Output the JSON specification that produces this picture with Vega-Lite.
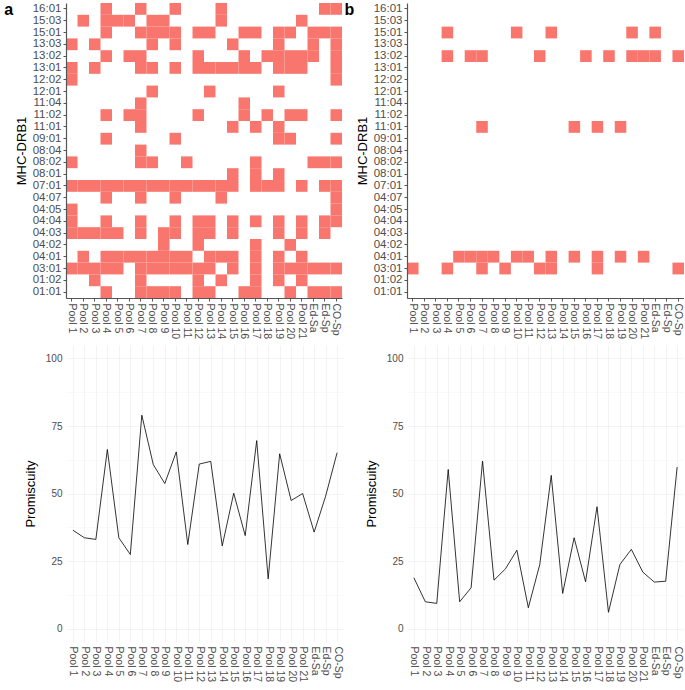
{
"$schema": "https://vega.github.io/schema/vega-lite/v6.json",
"padding": {"left": 4, "top": 2, "right": 0, "bottom": 0},
"columns": 2,
"spacing": {"row": 6, "column": 0},
"config": {
  "view": {"stroke": null},
  "font": "Liberation Sans",
  "axis": {"labelFont": "Liberation Sans", "titleFont": "Liberation Sans", "titleFontWeight": "normal", "titleColor": "#000000", "titleFontSize": 13, "labelColor": "#4D4D4D"},
  "title": {"font": "Liberation Sans"}
},
"datasets": {
"cells": [
{"panel":"a","allele":"16:01","sample":"Pool 4"},{"panel":"a","allele":"16:01","sample":"Pool 7"},{"panel":"a","allele":"16:01","sample":"Pool 10"},{"panel":"a","allele":"16:01","sample":"Pool 14"},{"panel":"a","allele":"16:01","sample":"Ed-Sp"},{"panel":"a","allele":"16:01","sample":"CO-Sp"},
{"panel":"a","allele":"15:03","sample":"Pool 2"},{"panel":"a","allele":"15:03","sample":"Pool 4"},{"panel":"a","allele":"15:03","sample":"Pool 5"},{"panel":"a","allele":"15:03","sample":"Pool 6"},{"panel":"a","allele":"15:03","sample":"Pool 8"},{"panel":"a","allele":"15:03","sample":"Pool 9"},{"panel":"a","allele":"15:03","sample":"Pool 14"},{"panel":"a","allele":"15:03","sample":"Pool 21"},
{"panel":"a","allele":"15:01","sample":"Pool 4"},{"panel":"a","allele":"15:01","sample":"Pool 7"},{"panel":"a","allele":"15:01","sample":"Pool 8"},{"panel":"a","allele":"15:01","sample":"Pool 9"},{"panel":"a","allele":"15:01","sample":"Pool 10"},{"panel":"a","allele":"15:01","sample":"Pool 12"},{"panel":"a","allele":"15:01","sample":"Pool 13"},{"panel":"a","allele":"15:01","sample":"Pool 16"},{"panel":"a","allele":"15:01","sample":"Pool 17"},{"panel":"a","allele":"15:01","sample":"Pool 19"},{"panel":"a","allele":"15:01","sample":"Pool 20"},{"panel":"a","allele":"15:01","sample":"Ed-Sa"},{"panel":"a","allele":"15:01","sample":"Ed-Sp"},{"panel":"a","allele":"15:01","sample":"CO-Sp"},
{"panel":"a","allele":"13:03","sample":"Pool 1"},{"panel":"a","allele":"13:03","sample":"Pool 3"},{"panel":"a","allele":"13:03","sample":"Pool 8"},{"panel":"a","allele":"13:03","sample":"Pool 10"},{"panel":"a","allele":"13:03","sample":"Pool 15"},{"panel":"a","allele":"13:03","sample":"Pool 19"},{"panel":"a","allele":"13:03","sample":"Ed-Sa"},{"panel":"a","allele":"13:03","sample":"CO-Sp"},
{"panel":"a","allele":"13:02","sample":"Pool 4"},{"panel":"a","allele":"13:02","sample":"Pool 6"},{"panel":"a","allele":"13:02","sample":"Pool 7"},{"panel":"a","allele":"13:02","sample":"Pool 12"},{"panel":"a","allele":"13:02","sample":"Pool 16"},{"panel":"a","allele":"13:02","sample":"Pool 18"},{"panel":"a","allele":"13:02","sample":"Pool 19"},{"panel":"a","allele":"13:02","sample":"Pool 20"},{"panel":"a","allele":"13:02","sample":"Pool 21"},{"panel":"a","allele":"13:02","sample":"Ed-Sa"},{"panel":"a","allele":"13:02","sample":"CO-Sp"},
{"panel":"a","allele":"13:01","sample":"Pool 1"},{"panel":"a","allele":"13:01","sample":"Pool 3"},{"panel":"a","allele":"13:01","sample":"Pool 7"},{"panel":"a","allele":"13:01","sample":"Pool 8"},{"panel":"a","allele":"13:01","sample":"Pool 10"},{"panel":"a","allele":"13:01","sample":"Pool 12"},{"panel":"a","allele":"13:01","sample":"Pool 13"},{"panel":"a","allele":"13:01","sample":"Pool 14"},{"panel":"a","allele":"13:01","sample":"Pool 15"},{"panel":"a","allele":"13:01","sample":"Pool 16"},{"panel":"a","allele":"13:01","sample":"Pool 17"},{"panel":"a","allele":"13:01","sample":"Pool 19"},{"panel":"a","allele":"13:01","sample":"Pool 20"},{"panel":"a","allele":"13:01","sample":"Pool 21"},{"panel":"a","allele":"13:01","sample":"CO-Sp"},
{"panel":"a","allele":"12:02","sample":"Pool 1"},{"panel":"a","allele":"12:02","sample":"CO-Sp"},
{"panel":"a","allele":"12:01","sample":"Pool 8"},{"panel":"a","allele":"12:01","sample":"Pool 13"},{"panel":"a","allele":"12:01","sample":"Pool 19"},
{"panel":"a","allele":"11:04","sample":"Pool 7"},{"panel":"a","allele":"11:04","sample":"Pool 16"},
{"panel":"a","allele":"11:02","sample":"Pool 4"},{"panel":"a","allele":"11:02","sample":"Pool 6"},{"panel":"a","allele":"11:02","sample":"Pool 7"},{"panel":"a","allele":"11:02","sample":"Pool 12"},{"panel":"a","allele":"11:02","sample":"Pool 16"},{"panel":"a","allele":"11:02","sample":"Pool 18"},{"panel":"a","allele":"11:02","sample":"Pool 20"},{"panel":"a","allele":"11:02","sample":"Pool 21"},{"panel":"a","allele":"11:02","sample":"CO-Sp"},
{"panel":"a","allele":"11:01","sample":"Pool 7"},{"panel":"a","allele":"11:01","sample":"Pool 15"},{"panel":"a","allele":"11:01","sample":"Pool 17"},{"panel":"a","allele":"11:01","sample":"Pool 19"},
{"panel":"a","allele":"09:01","sample":"Pool 4"},{"panel":"a","allele":"09:01","sample":"Pool 10"},{"panel":"a","allele":"09:01","sample":"Pool 19"},{"panel":"a","allele":"09:01","sample":"Pool 20"},{"panel":"a","allele":"09:01","sample":"CO-Sp"},
{"panel":"a","allele":"08:04","sample":"Pool 7"},
{"panel":"a","allele":"08:02","sample":"Pool 1"},{"panel":"a","allele":"08:02","sample":"Pool 7"},{"panel":"a","allele":"08:02","sample":"Pool 8"},{"panel":"a","allele":"08:02","sample":"Pool 11"},{"panel":"a","allele":"08:02","sample":"Pool 17"},{"panel":"a","allele":"08:02","sample":"Ed-Sa"},{"panel":"a","allele":"08:02","sample":"Ed-Sp"},{"panel":"a","allele":"08:02","sample":"CO-Sp"},
{"panel":"a","allele":"08:01","sample":"Pool 15"},{"panel":"a","allele":"08:01","sample":"Pool 17"},{"panel":"a","allele":"08:01","sample":"Pool 19"},
{"panel":"a","allele":"07:01","sample":"Pool 1"},{"panel":"a","allele":"07:01","sample":"Pool 2"},{"panel":"a","allele":"07:01","sample":"Pool 3"},{"panel":"a","allele":"07:01","sample":"Pool 4"},{"panel":"a","allele":"07:01","sample":"Pool 5"},{"panel":"a","allele":"07:01","sample":"Pool 6"},{"panel":"a","allele":"07:01","sample":"Pool 7"},{"panel":"a","allele":"07:01","sample":"Pool 8"},{"panel":"a","allele":"07:01","sample":"Pool 9"},{"panel":"a","allele":"07:01","sample":"Pool 10"},{"panel":"a","allele":"07:01","sample":"Pool 11"},{"panel":"a","allele":"07:01","sample":"Pool 12"},{"panel":"a","allele":"07:01","sample":"Pool 13"},{"panel":"a","allele":"07:01","sample":"Pool 14"},{"panel":"a","allele":"07:01","sample":"Pool 15"},{"panel":"a","allele":"07:01","sample":"Pool 17"},{"panel":"a","allele":"07:01","sample":"Pool 18"},{"panel":"a","allele":"07:01","sample":"Pool 19"},{"panel":"a","allele":"07:01","sample":"Pool 21"},{"panel":"a","allele":"07:01","sample":"Ed-Sp"},{"panel":"a","allele":"07:01","sample":"CO-Sp"},
{"panel":"a","allele":"04:07","sample":"Pool 4"},{"panel":"a","allele":"04:07","sample":"Pool 7"},{"panel":"a","allele":"04:07","sample":"Pool 10"},{"panel":"a","allele":"04:07","sample":"Pool 14"},{"panel":"a","allele":"04:07","sample":"CO-Sp"},
{"panel":"a","allele":"04:05","sample":"Pool 1"},{"panel":"a","allele":"04:05","sample":"CO-Sp"},
{"panel":"a","allele":"04:04","sample":"Pool 1"},{"panel":"a","allele":"04:04","sample":"Pool 4"},{"panel":"a","allele":"04:04","sample":"Pool 7"},{"panel":"a","allele":"04:04","sample":"Pool 10"},{"panel":"a","allele":"04:04","sample":"Pool 12"},{"panel":"a","allele":"04:04","sample":"Pool 13"},{"panel":"a","allele":"04:04","sample":"Pool 15"},{"panel":"a","allele":"04:04","sample":"Pool 17"},{"panel":"a","allele":"04:04","sample":"Pool 19"},{"panel":"a","allele":"04:04","sample":"Pool 21"},{"panel":"a","allele":"04:04","sample":"Ed-Sp"},{"panel":"a","allele":"04:04","sample":"CO-Sp"},
{"panel":"a","allele":"04:03","sample":"Pool 1"},{"panel":"a","allele":"04:03","sample":"Pool 2"},{"panel":"a","allele":"04:03","sample":"Pool 3"},{"panel":"a","allele":"04:03","sample":"Pool 4"},{"panel":"a","allele":"04:03","sample":"Pool 5"},{"panel":"a","allele":"04:03","sample":"Pool 7"},{"panel":"a","allele":"04:03","sample":"Pool 9"},{"panel":"a","allele":"04:03","sample":"Pool 10"},{"panel":"a","allele":"04:03","sample":"Pool 12"},{"panel":"a","allele":"04:03","sample":"Pool 13"},{"panel":"a","allele":"04:03","sample":"Pool 15"},{"panel":"a","allele":"04:03","sample":"Pool 19"},{"panel":"a","allele":"04:03","sample":"Pool 21"},{"panel":"a","allele":"04:03","sample":"Ed-Sp"},
{"panel":"a","allele":"04:02","sample":"Pool 9"},{"panel":"a","allele":"04:02","sample":"Pool 12"},{"panel":"a","allele":"04:02","sample":"Pool 17"},{"panel":"a","allele":"04:02","sample":"Pool 20"},
{"panel":"a","allele":"04:01","sample":"Pool 2"},{"panel":"a","allele":"04:01","sample":"Pool 4"},{"panel":"a","allele":"04:01","sample":"Pool 5"},{"panel":"a","allele":"04:01","sample":"Pool 6"},{"panel":"a","allele":"04:01","sample":"Pool 7"},{"panel":"a","allele":"04:01","sample":"Pool 8"},{"panel":"a","allele":"04:01","sample":"Pool 9"},{"panel":"a","allele":"04:01","sample":"Pool 10"},{"panel":"a","allele":"04:01","sample":"Pool 11"},{"panel":"a","allele":"04:01","sample":"Pool 13"},{"panel":"a","allele":"04:01","sample":"Pool 14"},{"panel":"a","allele":"04:01","sample":"Pool 15"},{"panel":"a","allele":"04:01","sample":"Pool 17"},{"panel":"a","allele":"04:01","sample":"Pool 19"},{"panel":"a","allele":"04:01","sample":"Pool 21"},
{"panel":"a","allele":"03:01","sample":"Pool 1"},{"panel":"a","allele":"03:01","sample":"Pool 2"},{"panel":"a","allele":"03:01","sample":"Pool 3"},{"panel":"a","allele":"03:01","sample":"Pool 4"},{"panel":"a","allele":"03:01","sample":"Pool 5"},{"panel":"a","allele":"03:01","sample":"Pool 7"},{"panel":"a","allele":"03:01","sample":"Pool 8"},{"panel":"a","allele":"03:01","sample":"Pool 9"},{"panel":"a","allele":"03:01","sample":"Pool 10"},{"panel":"a","allele":"03:01","sample":"Pool 11"},{"panel":"a","allele":"03:01","sample":"Pool 12"},{"panel":"a","allele":"03:01","sample":"Pool 13"},{"panel":"a","allele":"03:01","sample":"Pool 15"},{"panel":"a","allele":"03:01","sample":"Pool 17"},{"panel":"a","allele":"03:01","sample":"Pool 19"},{"panel":"a","allele":"03:01","sample":"Pool 20"},{"panel":"a","allele":"03:01","sample":"Pool 21"},{"panel":"a","allele":"03:01","sample":"Ed-Sa"},{"panel":"a","allele":"03:01","sample":"Ed-Sp"},{"panel":"a","allele":"03:01","sample":"CO-Sp"},
{"panel":"a","allele":"01:02","sample":"Pool 3"},{"panel":"a","allele":"01:02","sample":"Pool 7"},{"panel":"a","allele":"01:02","sample":"Pool 12"},{"panel":"a","allele":"01:02","sample":"Pool 14"},{"panel":"a","allele":"01:02","sample":"Pool 17"},{"panel":"a","allele":"01:02","sample":"Pool 19"},{"panel":"a","allele":"01:02","sample":"Pool 21"},
{"panel":"a","allele":"01:01","sample":"Pool 4"},{"panel":"a","allele":"01:01","sample":"Pool 7"},{"panel":"a","allele":"01:01","sample":"Pool 8"},{"panel":"a","allele":"01:01","sample":"Pool 9"},{"panel":"a","allele":"01:01","sample":"Pool 10"},{"panel":"a","allele":"01:01","sample":"Pool 12"},{"panel":"a","allele":"01:01","sample":"Pool 13"},{"panel":"a","allele":"01:01","sample":"Pool 16"},{"panel":"a","allele":"01:01","sample":"Pool 17"},{"panel":"a","allele":"01:01","sample":"Pool 20"},{"panel":"a","allele":"01:01","sample":"Ed-Sa"},{"panel":"a","allele":"01:01","sample":"Ed-Sp"},{"panel":"a","allele":"01:01","sample":"CO-Sp"},
{"panel":"b","allele":"15:01","sample":"Pool 4"},{"panel":"b","allele":"15:01","sample":"Pool 10"},{"panel":"b","allele":"15:01","sample":"Pool 13"},{"panel":"b","allele":"15:01","sample":"Pool 20"},{"panel":"b","allele":"15:01","sample":"Ed-Sa"},
{"panel":"b","allele":"13:02","sample":"Pool 4"},{"panel":"b","allele":"13:02","sample":"Pool 6"},{"panel":"b","allele":"13:02","sample":"Pool 7"},{"panel":"b","allele":"13:02","sample":"Pool 12"},{"panel":"b","allele":"13:02","sample":"Pool 16"},{"panel":"b","allele":"13:02","sample":"Pool 18"},{"panel":"b","allele":"13:02","sample":"Pool 20"},{"panel":"b","allele":"13:02","sample":"Pool 21"},{"panel":"b","allele":"13:02","sample":"Ed-Sa"},{"panel":"b","allele":"13:02","sample":"CO-Sp"},
{"panel":"b","allele":"11:01","sample":"Pool 7"},{"panel":"b","allele":"11:01","sample":"Pool 15"},{"panel":"b","allele":"11:01","sample":"Pool 17"},{"panel":"b","allele":"11:01","sample":"Pool 19"},
{"panel":"b","allele":"04:01","sample":"Pool 5"},{"panel":"b","allele":"04:01","sample":"Pool 6"},{"panel":"b","allele":"04:01","sample":"Pool 7"},{"panel":"b","allele":"04:01","sample":"Pool 8"},{"panel":"b","allele":"04:01","sample":"Pool 10"},{"panel":"b","allele":"04:01","sample":"Pool 11"},{"panel":"b","allele":"04:01","sample":"Pool 13"},{"panel":"b","allele":"04:01","sample":"Pool 15"},{"panel":"b","allele":"04:01","sample":"Pool 17"},{"panel":"b","allele":"04:01","sample":"Pool 19"},{"panel":"b","allele":"04:01","sample":"Pool 21"},
{"panel":"b","allele":"03:01","sample":"Pool 1"},{"panel":"b","allele":"03:01","sample":"Pool 4"},{"panel":"b","allele":"03:01","sample":"Pool 7"},{"panel":"b","allele":"03:01","sample":"Pool 9"},{"panel":"b","allele":"03:01","sample":"Pool 12"},{"panel":"b","allele":"03:01","sample":"Pool 13"},{"panel":"b","allele":"03:01","sample":"Pool 17"},{"panel":"b","allele":"03:01","sample":"CO-Sp"}
],
"promisc": [
{"panel":"a","sample":"Pool 1","promiscuity":36.4},{"panel":"a","sample":"Pool 2","promiscuity":33.6},{"panel":"a","sample":"Pool 3","promiscuity":33.0},{"panel":"a","sample":"Pool 4","promiscuity":66.3},{"panel":"a","sample":"Pool 5","promiscuity":33.6},{"panel":"a","sample":"Pool 6","promiscuity":27.4},{"panel":"a","sample":"Pool 7","promiscuity":79.0},{"panel":"a","sample":"Pool 8","promiscuity":60.7},{"panel":"a","sample":"Pool 9","promiscuity":53.7},{"panel":"a","sample":"Pool 10","promiscuity":65.4},{"panel":"a","sample":"Pool 11","promiscuity":31.1},{"panel":"a","sample":"Pool 12","promiscuity":60.9},{"panel":"a","sample":"Pool 13","promiscuity":61.9},{"panel":"a","sample":"Pool 14","promiscuity":30.6},{"panel":"a","sample":"Pool 15","promiscuity":50.1},{"panel":"a","sample":"Pool 16","promiscuity":34.4},{"panel":"a","sample":"Pool 17","promiscuity":69.6},{"panel":"a","sample":"Pool 18","promiscuity":18.4},{"panel":"a","sample":"Pool 19","promiscuity":64.7},{"panel":"a","sample":"Pool 20","promiscuity":47.4},{"panel":"a","sample":"Pool 21","promiscuity":50.0},{"panel":"a","sample":"Ed-Sa","promiscuity":35.7},{"panel":"a","sample":"Ed-Sp","promiscuity":49.0},{"panel":"a","sample":"CO-Sp","promiscuity":65.1},
{"panel":"b","sample":"Pool 1","promiscuity":18.8},{"panel":"b","sample":"Pool 2","promiscuity":9.9},{"panel":"b","sample":"Pool 3","promiscuity":9.3},{"panel":"b","sample":"Pool 4","promiscuity":58.9},{"panel":"b","sample":"Pool 5","promiscuity":9.9},{"panel":"b","sample":"Pool 6","promiscuity":15.1},{"panel":"b","sample":"Pool 7","promiscuity":62.0},{"panel":"b","sample":"Pool 8","promiscuity":17.9},{"panel":"b","sample":"Pool 9","promiscuity":22.1},{"panel":"b","sample":"Pool 10","promiscuity":29.0},{"panel":"b","sample":"Pool 11","promiscuity":7.7},{"panel":"b","sample":"Pool 12","promiscuity":23.7},{"panel":"b","sample":"Pool 13","promiscuity":56.7},{"panel":"b","sample":"Pool 14","promiscuity":13.0},{"panel":"b","sample":"Pool 15","promiscuity":33.6},{"panel":"b","sample":"Pool 16","promiscuity":17.3},{"panel":"b","sample":"Pool 17","promiscuity":45.1},{"panel":"b","sample":"Pool 18","promiscuity":6.0},{"panel":"b","sample":"Pool 19","promiscuity":23.7},{"panel":"b","sample":"Pool 20","promiscuity":29.3},{"panel":"b","sample":"Pool 21","promiscuity":20.9},{"panel":"b","sample":"Ed-Sa","promiscuity":17.2},{"panel":"b","sample":"Ed-Sp","promiscuity":17.5},{"panel":"b","sample":"CO-Sp","promiscuity":59.8}
]
},
"concat": [
{
  "width": 276, "height": 295,
  "title": {"text": "a", "orient": "left", "anchor": "end", "angle": 0, "fontSize": 16, "fontWeight": "bold", "color": "#000000", "baseline": "top", "offset": 2, "align": "left"},
  "data": {"name": "cells"},
  "transform": [{"filter": "datum.panel === 'a'"}],
  "mark": {"type": "rect", "color": "#F8766D"},
  "encoding": {
    "x": {"field": "sample", "type": "nominal", "title": null,
      "scale": {"domain": ["Pool 1","Pool 2","Pool 3","Pool 4","Pool 5","Pool 6","Pool 7","Pool 8","Pool 9","Pool 10","Pool 11","Pool 12","Pool 13","Pool 14","Pool 15","Pool 16","Pool 17","Pool 18","Pool 19","Pool 20","Pool 21","Ed-Sa","Ed-Sp","CO-Sp"], "paddingInner": 0, "paddingOuter": 0},
      "axis": {"labelAngle": 90, "labelAlign": "left", "labelBaseline": "middle", "labelFontSize": 10.5, "labelPadding": 2, "tickSize": 3, "tickColor": "#555555", "domainColor": "#555555", "domainWidth": 1.2}},
    "y": {"field": "allele", "type": "nominal", "title": "MHC-DRB1",
      "scale": {"domain": ["16:01","15:03","15:01","13:03","13:02","13:01","12:02","12:01","11:04","11:02","11:01","09:01","08:04","08:02","08:01","07:01","04:07","04:05","04:04","04:03","04:02","04:01","03:01","01:02","01:01"], "paddingInner": 0, "paddingOuter": 0},
      "axis": {"labelFontSize": 11.5, "labelPadding": 2, "tickSize": 3, "tickColor": "#555555", "domainColor": "#555555", "domainWidth": 1.2, "titlePadding": 4}}
  }
},
{
  "width": 277, "height": 295,
  "title": {"text": "b", "orient": "left", "anchor": "end", "angle": 0, "fontSize": 16, "fontWeight": "bold", "color": "#000000", "baseline": "top", "offset": 2, "align": "left"},
  "data": {"name": "cells"},
  "transform": [{"filter": "datum.panel === 'b'"}],
  "mark": {"type": "rect", "color": "#F8766D"},
  "encoding": {
    "x": {"field": "sample", "type": "nominal", "title": null,
      "scale": {"domain": ["Pool 1","Pool 2","Pool 3","Pool 4","Pool 5","Pool 6","Pool 7","Pool 8","Pool 9","Pool 10","Pool 11","Pool 12","Pool 13","Pool 14","Pool 15","Pool 16","Pool 17","Pool 18","Pool 19","Pool 20","Pool 21","Ed-Sa","Ed-Sp","CO-Sp"], "paddingInner": 0, "paddingOuter": 0},
      "axis": {"labelAngle": 90, "labelAlign": "left", "labelBaseline": "middle", "labelFontSize": 10.5, "labelPadding": 2, "tickSize": 3, "tickColor": "#555555", "domainColor": "#555555", "domainWidth": 1.2}},
    "y": {"field": "allele", "type": "nominal", "title": "MHC-DRB1",
      "scale": {"domain": ["16:01","15:03","15:01","13:03","13:02","13:01","12:02","12:01","11:04","11:02","11:01","09:01","08:04","08:02","08:01","07:01","04:07","04:05","04:04","04:03","04:02","04:01","03:01","01:02","01:01"], "paddingInner": 0, "paddingOuter": 0},
      "axis": {"labelFontSize": 11.5, "labelPadding": 2, "tickSize": 3, "tickColor": "#555555", "domainColor": "#555555", "domainWidth": 1.2, "titlePadding": 4}}
  }
},
{
  "width": 278, "height": 297,
  "data": {"name": "promisc"},
  "transform": [{"filter": "datum.panel === 'a'"}],
  "mark": {"type": "line", "color": "#000000", "strokeWidth": 0.8},
  "encoding": {
    "x": {"field": "sample", "type": "nominal", "title": null,
      "scale": {"domain": ["Pool 1","Pool 2","Pool 3","Pool 4","Pool 5","Pool 6","Pool 7","Pool 8","Pool 9","Pool 10","Pool 11","Pool 12","Pool 13","Pool 14","Pool 15","Pool 16","Pool 17","Pool 18","Pool 19","Pool 20","Pool 21","Ed-Sa","Ed-Sp","CO-Sp"], "padding": 0.6},
      "axis": {"labelAngle": 90, "labelAlign": "left", "labelBaseline": "middle", "labelFontSize": 10.5, "labelPadding": 4, "ticks": false, "domain": false, "grid": true, "gridColor": "#EBEBEB", "gridWidth": 0.6}},
    "y": {"field": "promiscuity", "type": "quantitative", "title": "Promiscuity",
      "scale": {"domain": [-5, 105], "nice": false, "zero": false},
      "axis": {"values": [0, 12.5, 25, 37.5, 50, 62.5, 75, 87.5, 100], "labelExpr": "datum.value % 25 === 0 ? datum.label : ''", "labelFontSize": 10, "labelPadding": 4, "ticks": false, "domain": false, "grid": true, "gridColor": {"condition": {"test": "datum.value % 25 === 0", "value": "#EBEBEB"}, "value": "#F5F5F5"}, "gridWidth": 0.6, "titlePadding": 8}}
  }
},
{
  "width": 277, "height": 297,
  "data": {"name": "promisc"},
  "transform": [{"filter": "datum.panel === 'b'"}],
  "mark": {"type": "line", "color": "#000000", "strokeWidth": 0.8},
  "encoding": {
    "x": {"field": "sample", "type": "nominal", "title": null,
      "scale": {"domain": ["Pool 1","Pool 2","Pool 3","Pool 4","Pool 5","Pool 6","Pool 7","Pool 8","Pool 9","Pool 10","Pool 11","Pool 12","Pool 13","Pool 14","Pool 15","Pool 16","Pool 17","Pool 18","Pool 19","Pool 20","Pool 21","Ed-Sa","Ed-Sp","CO-Sp"], "padding": 0.6},
      "axis": {"labelAngle": 90, "labelAlign": "left", "labelBaseline": "middle", "labelFontSize": 10.5, "labelPadding": 4, "ticks": false, "domain": false, "grid": true, "gridColor": "#EBEBEB", "gridWidth": 0.6}},
    "y": {"field": "promiscuity", "type": "quantitative", "title": "Promiscuity",
      "scale": {"domain": [-5, 105], "nice": false, "zero": false},
      "axis": {"values": [0, 12.5, 25, 37.5, 50, 62.5, 75, 87.5, 100], "labelExpr": "datum.value % 25 === 0 ? datum.label : ''", "labelFontSize": 10, "labelPadding": 4, "ticks": false, "domain": false, "grid": true, "gridColor": {"condition": {"test": "datum.value % 25 === 0", "value": "#EBEBEB"}, "value": "#F5F5F5"}, "gridWidth": 0.6, "titlePadding": 8}}
  }
}
]
}
